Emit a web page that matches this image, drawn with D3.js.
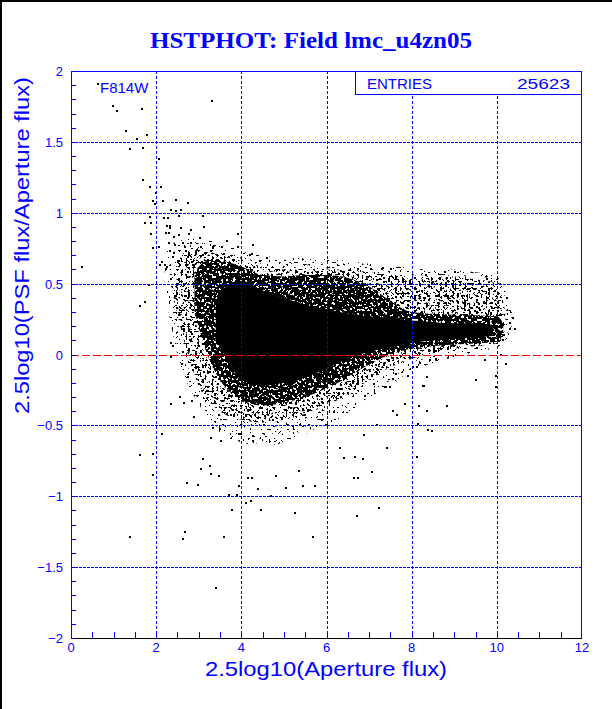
<!DOCTYPE html>
<html>
<head>
<meta charset="utf-8">
<script src="https://cdn.jsdelivr.net/npm/d3@7"></script>
<style>
  html, body { margin: 0; padding: 0; background: #fff; }
  svg { display: block; }
  text { font-family: "Liberation Sans", Arial, sans-serif; fill: #0000ff; }
</style>
</head>
<body>
<div id="chart"></div>
<script>
// HSTPHOT residual plot, F814W

const entries = 25623;
const xTicks = [0, 2, 4, 6, 8, 10, 12];
const yTicks = [-2, -1.5, -1, -0.5, 0, 0.5, 1, 1.5, 2];

// envelope of the dense cloud (x, upper y, lower y)
const faintX   = [2.2, 2.5, 3.0, 3.5, 4.0, 4.5, 5.0, 5.5, 6.0, 6.5, 7.0, 7.5, 8.0, 8.5, 9.0, 9.5, 10.0, 10.35];
const faintTop = [0.70, 0.80, 0.82, 0.78, 0.74, 0.70, 0.68, 0.68, 0.67, 0.66, 0.64, 0.62, 0.62, 0.60, 0.60, 0.58, 0.55, 0.30];
const faintBot = [0.45, 0.00, -0.35, -0.55, -0.62, -0.64, -0.62, -0.56, -0.50, -0.42, -0.32, -0.22, -0.12, -0.06, -0.02, 0.02, 0.05, 0.12];

const sparseX   = [2.4, 2.7, 3.0, 3.5, 4.0, 4.5, 5.0, 5.5, 6.0, 6.5, 7.0, 7.5, 8.0, 8.5, 9.0, 9.5, 10.0, 10.2];
const sparseTop = [0.60, 0.72, 0.74, 0.70, 0.66, 0.62, 0.60, 0.60, 0.60, 0.60, 0.58, 0.56, 0.56, 0.55, 0.55, 0.53, 0.50, 0.30];
const sparseBot = [0.40, 0.05, -0.22, -0.40, -0.46, -0.48, -0.46, -0.42, -0.36, -0.28, -0.18, -0.09, -0.03, 0.01, 0.04, 0.06, 0.08, 0.12];

const denseX   = [2.9, 3.2, 3.5, 4.0, 4.5, 5.0, 5.5, 6.0, 6.5, 7.0, 7.5, 8.0, 9.0, 10.0, 10.15];
const denseTop = [0.58, 0.66, 0.66, 0.62, 0.56, 0.55, 0.56, 0.56, 0.54, 0.48, 0.38, 0.30, 0.28, 0.27, 0.22];
const denseBot = [0.30, 0.00, -0.18, -0.32, -0.36, -0.34, -0.30, -0.24, -0.16, -0.07, 0.00, 0.04, 0.07, 0.09, 0.14];

const coreX   = [3.4, 3.7, 4.0, 4.5, 5.0, 5.5, 6.0, 6.5, 7.0, 7.5, 8.0, 8.5, 9.0, 9.5, 9.9];
const coreTop = [0.35, 0.50, 0.52, 0.45, 0.40, 0.35, 0.32, 0.29, 0.27, 0.26, 0.24, 0.23, 0.22, 0.22, 0.21];
const coreBot = [0.10, -0.05, -0.18, -0.22, -0.20, -0.16, -0.10, -0.03, 0.02, 0.05, 0.08, 0.10, 0.11, 0.12, 0.13];

// isolated points outside the cloud
const outliers = [
  [0.27, 0.62], [0.63, 1.91], [0.98, 1.75], [1.07, 1.72], [1.67, 1.73], [3.30, 1.79],
  [1.28, 1.58], [1.78, 1.55], [1.55, 1.52], [1.38, 1.45], [1.68, 1.46], [2.06, 1.38],
  [1.68, 1.23], [1.85, 1.18], [2.11, 1.18], [2.00, 1.14], [1.92, 1.08], [2.15, 1.08],
  [1.97, 1.06], [2.47, 1.09], [2.74, 1.07], [2.35, 1.02], [2.46, 1.01], [2.58, 1.02],
  [2.53, 0.98], [3.11, 0.98], [1.86, 0.97], [2.18, 0.96], [2.27, 0.96], [1.88, 0.93],
  [1.73, 0.93], [2.25, 0.91], [2.32, 0.91], [2.33, 0.89], [2.59, 0.89], [2.81, 0.88],
  [3.12, 0.90], [2.23, 0.86], [2.29, 0.86], [2.78, 0.85], [1.88, 0.85], [2.41, 0.83],
  [2.54, 0.84], [3.03, 0.82], [3.91, 0.85], [3.66, 0.80], [2.31, 0.79], [2.64, 0.79],
  [2.82, 0.79], [2.45, 0.77], [2.68, 0.76], [2.06, 0.76], [1.92, 0.75], [3.05, 0.76],
  [3.34, 0.75], [3.54, 0.76], [3.91, 0.76], [2.33, 0.73], [2.69, 0.73], [2.95, 0.74],
  [3.28, 0.73], [3.60, 0.71], [2.39, 0.69], [2.74, 0.69], [3.11, 0.70], [3.42, 0.70],
  [3.72, 0.69], [2.13, 0.65], [2.51, 0.66], [2.83, 0.65], [3.07, 0.65], [3.26, 0.64],
  [3.50, 0.65], [3.80, 0.67], [4.13, 0.62], [2.25, 0.62], [2.76, 0.61], [3.15, 0.61],
  [3.42, 0.62], [4.28, 0.77], [4.24, 0.71], [4.60, 0.68], [4.20, 0.70], [4.45, 0.66],
  [2.21, 0.63], [2.23, 0.60], [2.34, 0.53], [2.09, 0.63], [2.44, 0.41], [2.48, 0.33],
  [2.64, 0.20], [2.36, 0.08], [2.40, 0.06], [2.64, 0.02], [2.79, 0.10], [2.34, -0.02],
  [2.60, -0.07], [2.87, -0.11], [2.75, -0.16], [1.84, 0.49], [1.74, 0.37], [1.62, 0.34],
  [2.34, -0.35], [2.56, -0.30], [2.65, -0.34], [2.83, -0.33], [2.89, -0.44], [2.13, -0.56],
  [1.62, -0.71], [1.93, -0.70], [1.92, -0.85], [3.11, -0.74], [3.26, -0.79], [3.05, -0.81],
  [3.29, -0.84], [3.48, -0.86], [2.72, -0.91], [2.99, -0.92], [3.29, -0.59], [3.34, -0.52],
  [3.53, -0.61], [3.72, -0.99], [3.89, -0.99], [3.95, -0.93], [3.78, -1.10], [4.11, -1.05],
  [4.23, -1.03], [4.15, -0.87], [4.24, -0.87], [4.38, -0.95], [4.69, -1.00], [4.46, -1.10],
  [4.81, -0.86], [5.04, -0.94], [5.26, -1.12], [5.44, -0.93], [5.73, -0.93], [5.35, -0.82],
  [2.68, -1.25], [2.62, -1.30], [1.39, -1.29], [3.60, -1.29], [5.68, -1.29], [3.41, -1.65],
  [6.71, -1.14], [7.23, -1.08], [6.65, -0.87], [6.74, -0.87], [7.08, -0.83], [6.41, -0.73],
  [6.66, -0.72], [6.85, -0.74], [7.43, -0.66], [8.13, -0.72], [8.48, -0.54], [8.38, -0.53],
  [8.82, -0.36], [8.29, -0.22], [7.92, -0.15], [8.12, -0.09], [7.84, -0.35], [7.57, -0.40],
  [7.66, -0.43], [8.16, -0.49], [8.17, -0.36], [8.35, -0.40], [7.19, -0.50], [6.87, -0.57],
  [6.32, -0.66], [10.02, 0.26], [10.15, 0.10], [10.31, 0.22], [10.37, 0.26], [10.43, 0.18],
  [10.31, 0.18], [10.10, 0.00], [9.98, -0.15], [9.98, -0.23], [9.72, -0.04], [9.50, -0.18],
  [8.84, 0.54], [9.02, 0.58], [8.82, 0.41], [9.49, 0.31], [8.67, 0.54], [8.33, 0.56],
  [8.49, 0.51], [8.79, 0.58], [7.52, 0.60], [7.04, 0.60], [6.39, 0.58], [6.75, 0.60],
  [7.32, 0.61], [9.76, 0.53], [10.25, 0.40], [10.16, 0.14], [10.22, -0.07], [8.37, -0.16],
  [8.27, -0.22], [8.57, -0.03], [8.43, -0.04], [8.20, -0.06], [8.04, -0.09], [7.63, -0.14],
  [7.55, -0.17], [7.37, -0.23], [7.49, -0.23], [8.18, 0.01]
];

const W = 612, H = 709;
const mLeft = 71, mRight = 582, mTop = 71, mBottom = 638;

const svg = d3.select('#chart').append('svg')
  .attr('width', W)
  .attr('height', H);

const x = d3.scaleLinear().domain([0, 12]).range([mLeft, mRight]);
const y = d3.scaleLinear().domain([-2, 2]).range([mBottom, mTop]);

// speckle filters for the half-filled parts of the cloud
const defs = svg.append('defs');
function speckle(id, threshold, freq, seed) {
  const f = defs.append('filter')
    .attr('id', id)
    .attr('filterUnits', 'userSpaceOnUse')
    .attr('x', 0).attr('y', 0).attr('width', W).attr('height', H)
    .attr('color-interpolation-filters', 'sRGB');
  f.append('feTurbulence')
    .attr('type', 'fractalNoise')
    .attr('baseFrequency', freq)
    .attr('numOctaves', 1)
    .attr('seed', seed)
    .attr('result', 'noise');
  f.append('feColorMatrix')
    .attr('in', 'noise')
    .attr('type', 'matrix')
    .attr('values', '0 0 0 0 0  0 0 0 0 0  0 0 0 0 0  1 0 0 0 0')
    .attr('result', 'a');
  f.append('feComponentTransfer')
    .attr('in', 'a')
    .attr('result', 't')
    .append('feFuncA')
    .attr('type', 'linear')
    .attr('slope', 60)
    .attr('intercept', -60 * threshold);
  f.append('feComposite')
    .attr('in', 't')
    .attr('in2', 'SourceGraphic')
    .attr('operator', 'in');
}
speckle('speckFaint', 0.65, 0.42, 11);
speckle('speckSparse', 0.57, 0.42, 3);
speckle('speckDense', 0.43, 0.42, 7);

// page border (left and top only)
svg.append('rect').attr('x', 0).attr('y', 0).attr('width', 2).attr('height', H).attr('fill', '#000');
svg.append('rect').attr('x', 0).attr('y', 0).attr('width', W).attr('height', 2).attr('fill', '#000');

// title
svg.append('text')
  .attr('x', 311)
  .attr('y', 48)
  .attr('text-anchor', 'middle')
  .attr('textLength', 322)
  .attr('lengthAdjust', 'spacingAndGlyphs')
  .style('font-family', '"Liberation Serif", "Times New Roman", serif')
  .style('font-weight', 'bold')
  .style('font-size', '24px')
  .text('HSTPHOT: Field lmc_u4zn05');

// cloud layers
function band(xs, tops, bots) {
  return d3.area()
    .x((d, i) => x(xs[i]))
    .y0((d, i) => y(bots[i]))
    .y1((d, i) => y(tops[i]))
    .curve(d3.curveMonotoneX)(xs);
}

const plot = svg.append('g');

plot.append('path')
  .attr('d', band(faintX, faintTop, faintBot))
  .attr('fill', '#000')
  .attr('filter', 'url(#speckFaint)');

plot.append('path')
  .attr('d', band(sparseX, sparseTop, sparseBot))
  .attr('fill', '#000')
  .attr('filter', 'url(#speckSparse)');

plot.append('path')
  .attr('d', band(denseX, denseTop, denseBot))
  .attr('fill', '#000')
  .attr('filter', 'url(#speckDense)');

plot.append('path')
  .attr('d', band(coreX, coreTop, coreBot))
  .attr('fill', '#000');

plot.selectAll('rect.pt')
  .data(outliers)
  .enter().append('rect')
  .attr('class', 'pt')
  .attr('x', d => Math.round(x(d[0])) - 1)
  .attr('y', d => Math.round(y(d[1])) - 1)
  .attr('width', 2)
  .attr('height', 2)
  .attr('fill', '#000');

// grid, drawn as pixel dashes so the thin lines stay crisp
const grid = svg.append('g').attr('shape-rendering', 'crispEdges');

function hDash(yv, dash, gap, color) {
  const yy = Math.round(y(yv));
  grid.append('g').selectAll('rect')
    .data(d3.range(mLeft, mRight, dash + gap))
    .enter().append('rect')
    .attr('x', d => d)
    .attr('y', yy)
    .attr('width', d => Math.min(dash, mRight - d))
    .attr('height', 1)
    .attr('fill', color);
}
function vDash(xv, dash, gap, color) {
  const xx = Math.round(x(xv));
  grid.append('g').selectAll('rect')
    .data(d3.range(mTop, mBottom, dash + gap))
    .enter().append('rect')
    .attr('x', xx)
    .attr('y', d => d)
    .attr('width', 1)
    .attr('height', d => Math.min(dash, mBottom - d))
    .attr('fill', color);
}

[2, 4, 6, 8, 10].forEach(v => vDash(v, 3, 2, '#0000ff'));
[-1.5, -1, -0.5, 0.5, 1, 1.5].forEach(v => hDash(v, 3, 1, '#0000ff'));
hDash(0, 8, 3, '#ff0000');

// frame
grid.append('rect').attr('x', mLeft).attr('y', mTop).attr('width', mRight - mLeft).attr('height', 1).attr('fill', '#0000ff');
grid.append('rect').attr('x', mRight - 1).attr('y', mTop).attr('width', 1).attr('height', mBottom - mTop).attr('fill', '#0000ff');
grid.append('rect').attr('x', mLeft).attr('y', mTop).attr('width', 1).attr('height', mBottom - mTop).attr('fill', '#0000ff');
grid.append('rect').attr('x', mLeft).attr('y', mBottom).attr('width', mRight - mLeft).attr('height', 1).attr('fill', '#000');

// minor ticks
grid.append('g').selectAll('rect')
  .data(d3.range(-2, 2.001, 0.1))
  .enter().append('rect')
  .attr('x', mLeft)
  .attr('y', d => Math.round(y(d)))
  .attr('width', 5)
  .attr('height', 1)
  .attr('fill', '#0000ff');
grid.append('g').selectAll('rect')
  .data(d3.range(0, 12.001, 0.5))
  .enter().append('rect')
  .attr('x', d => Math.min(Math.round(x(d)), mRight - 1))
  .attr('y', mBottom - 6)
  .attr('width', 1)
  .attr('height', 6)
  .attr('fill', '#0000ff');

// tick labels
const fmt = v => (v < 0 ? '\u2212' : '') + d3.format('')(Math.abs(v));
svg.append('g').selectAll('text')
  .data(xTicks)
  .enter().append('text')
  .attr('x', d => x(d))
  .attr('y', 652)
  .attr('text-anchor', 'middle')
  .style('font-size', '13px')
  .text(d => d);

svg.append('g').selectAll('text')
  .data(yTicks)
  .enter().append('text')
  .attr('x', 63)
  .attr('y', d => y(d) + 5)
  .attr('text-anchor', 'end')
  .style('font-size', '13px')
  .text(fmt);

// axis titles
svg.append('text')
  .attr('x', 447)
  .attr('y', 676)
  .attr('text-anchor', 'end')
  .attr('textLength', 242)
  .attr('lengthAdjust', 'spacingAndGlyphs')
  .style('font-size', '21px')
  .text('2.5log10(Aperture flux)');

svg.append('text')
  .attr('transform', 'translate(29,77) rotate(-90)')
  .attr('text-anchor', 'end')
  .attr('textLength', 337)
  .attr('lengthAdjust', 'spacingAndGlyphs')
  .style('font-size', '21px')
  .text('2.5log10(PSF flux/Aperture flux)');

// filter label and stats box
svg.append('text')
  .attr('x', 100)
  .attr('y', 93)
  .style('font-size', '15px')
  .text('F814W');

svg.append('rect')
  .attr('x', 355.5).attr('y', mTop + 0.5)
  .attr('width', mRight - 356).attr('height', 23)
  .attr('fill', '#fff')
  .attr('stroke', '#0000ff');
svg.append('text')
  .attr('x', 367).attr('y', 89)
  .style('font-size', '15px')
  .text('ENTRIES');
svg.append('text')
  .attr('x', 570).attr('y', 89)
  .attr('text-anchor', 'end')
  .attr('textLength', 53)
  .attr('lengthAdjust', 'spacingAndGlyphs')
  .style('font-size', '15px')
  .text(entries);
</script>
</body>
</html>
